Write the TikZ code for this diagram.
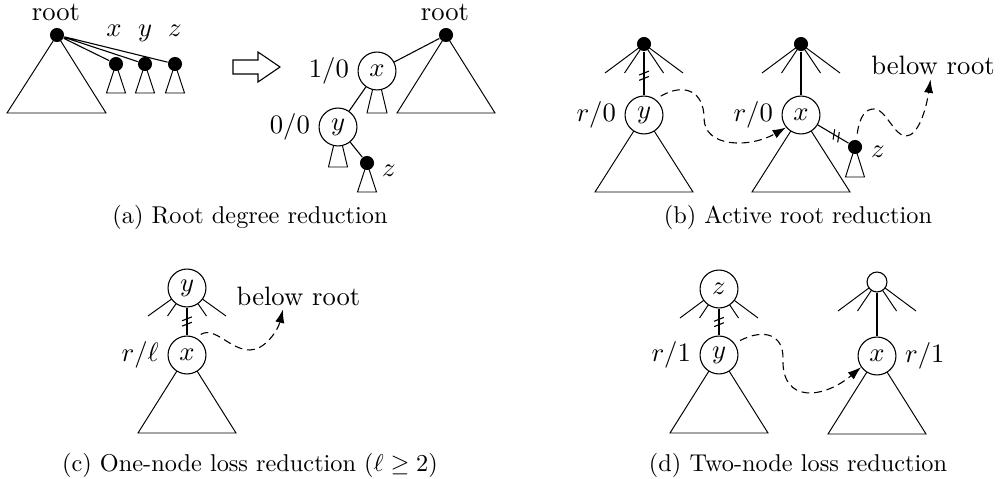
\documentclass[tikz,border=0pt]{standalone}
\usetikzlibrary{arrows.meta,decorations.markings,calc}
\pgfdeclarelayer{bg}
\pgfsetlayers{bg,main}
\begin{document}
\begin{tikzpicture}[x=0.4115pt,y=-0.4115pt, line width=0.45pt,
  lbl/.style={font=\fontsize{10.95}{13}\selectfont},
  captxt/.style={font=\fontsize{10}{12}\selectfont, anchor=base, inner sep=0pt},
  dot/.style={circle,fill=black,inner sep=0pt,minimum size=5.8pt},
  cnode/.style={circle,draw,fill=white,inner sep=0pt,minimum size=15.6pt,font=\fontsize{10.95}{13}\selectfont},
  snode/.style={circle,draw,fill=white,inner sep=0pt,minimum size=8.2pt},
  dasharrow/.style={dash pattern=on 3.2pt off 2pt, -{Latex[length=5.5pt,width=3.8pt]}, shorten <=2.5pt},
  cutmark/.style={postaction={decorate,decoration={markings,mark=at position #1 with {\draw[solid,line width=0.45pt] (-0.3pt,-2pt)--(-1.9pt,2pt) (1.9pt,-2pt)--(0.3pt,2pt);}}}},
  every label/.style={font=\fontsize{10.95}{13}\selectfont},
]
\useasboundingbox (0,0) rectangle (1000,479);

% ---------- (a) left ----------
\node[dot] (ar) at (57,35) {};
\node[lbl,anchor=base] (arl) at (56,21) {root};
\node[dot] (ax) at (116,64) {};
\node[dot] (ay) at (145,64) {};
\node[dot] (az) at (175,64) {};
\node[lbl,anchor=base] (axl) at (114,37) {$x$};
\node[lbl,anchor=base] (ayl) at (145,37) {$y$};
\node[lbl,anchor=base] (azl) at (175,37) {$z$};
\draw (ar) -- (ax) (ar) -- (ay) (ar) -- (az);

% hollow arrow
\draw[line join=miter] (233,60) -- (258,60) -- (258,52) -- (280,67) -- (258,82) -- (258,74) -- (233,74) -- cycle;

% ---------- (a) right ----------
\node[dot] (aR) at (446,35) {};
\node[lbl,anchor=base] (aRl) at (445,21) {root};
\node[cnode,label=left:{$1/0$}] (aX) at (377,71) {$x$};
\node[cnode,label=left:{$0/0$}] (aY) at (338,127) {$y$};
\node[dot] (aZ) at (367,163) {};
\node[lbl,anchor=base] (aZl) at (389,177) {$z$};
\draw (aX) -- (aR) (aX) -- (aY) (aY) -- (aZ);

% ---------- (b) ----------
\node[dot] (bR1) at (644,44) {};
\node[cnode,label=left:{$r/0$}] (bY) at (644,115) {$y$};
\node[dot] (bR2) at (801,44) {};
\node[cnode,label=left:{$r/0$}] (bX) at (801,115) {$x$};
\node[dot] (bZ) at (855,147) {};
\node[lbl,anchor=base] (bZl) at (878,158) {$z$};
\node[lbl,anchor=base,inner sep=1.5pt] (bB) at (933,75) {below root};
\draw[cutmark=0.55] (bR1) -- (bY);
\draw (bR2) -- (bX);
\draw[cutmark=0.6] (bX) -- (bZ);
\draw[dasharrow] (bY.54) .. controls (685,82) and (704,92) .. (704,118)
  .. controls (704,148) and (750,148) .. (bX.220);
\draw[dasharrow] (bZ.80) .. controls (860,115) and (866,109) .. (874,109)
  .. controls (886,109) and (894,136) .. (906,136)
  .. controls (918,136) and (926,110) .. ([xshift=-1pt]bB.south);

% ---------- (c) ----------
\node[cnode] (cY) at (187,288) {$y$};
\node[cnode,label=left:{$r/\ell$}] (cX) at (187,355) {$x$};
\node[lbl,anchor=base,inner sep=1.5pt] (cB) at (298.5,305) {below root};
\draw[cutmark=0.5] (cY) -- (cX);
\draw[dasharrow] (cX.64) .. controls (215,326) and (230,350) .. (250,350)
  .. controls (265,350) and (278,330) .. ([xshift=-6.4pt]cB.south);

% ---------- (d) ----------
\node[cnode] (dZ) at (719,289) {$z$};
\node[cnode,label=left:{$r/1$}] (dY) at (719,355) {$y$};
\node[snode] (dT) at (877,282) {};
\node[cnode,label=right:{$r/1$}] (dX) at (877,356) {$x$};
\draw[cutmark=0.5] (dZ) -- (dY);
\draw (dT) -- (dX);
\draw[dasharrow] (dY.37) .. controls (765,328) and (783,335) .. (783,358)
  .. controls (781,405) and (825,398) .. (dX.215);

% ---------- background: triangles and fans ----------
\begin{pgfonlayer}{bg}
  % (a) left
  \draw (ar.center) -- (7,113) -- (106,113) -- cycle;
  \foreach \n in {ax,ay,az}
    \draw (\n.center) -- ++(-9.5,29) -- ++(19,0) -- cycle;
  % (a) right
  \draw (aR.center) -- (397,113) -- (495,113) -- cycle;
  \draw (aX.center) -- ++(-10,42) -- ++(20,0) -- cycle;
  \draw (aY.center) -- ++(-9.5,40) -- ++(19,0) -- cycle;
  \draw (aZ.center) -- ++(-9.5,29) -- ++(19,0) -- cycle;
  % (b)
  \foreach \n in {bR1,bR2}
    \draw (\n.center) -- ++(-39,29) (\n.center) -- ++(-19.5,29)
          (\n.center) -- ++(19.5,29) (\n.center) -- ++(39,29);
  \draw (bY.center) -- ++(-49,77) -- ++(98,0) -- cycle;
  \draw (bX.center) -- ++(-49,77) -- ++(98,0) -- cycle;
  \draw (bZ.center) -- ++(-9.5,30) -- ++(19,0) -- cycle;
  % (c)
  \draw (cY.center) -- ++(-39,28) (cY.center) -- ++(-19.5,28)
        (cY.center) -- ++(19.5,28) (cY.center) -- ++(39,28);
  \draw (cX.center) -- ++(-49,78) -- ++(98,0) -- cycle;
  % (d)
  \foreach \n in {dZ,dT}
    \draw (\n.center) -- ++(-39,29) (\n.center) -- ++(-19.5,29)
          (\n.center) -- ++(19.5,29) (\n.center) -- ++(39,29);
  \draw (dY.center) -- ++(-49,78) -- ++(98,0) -- cycle;
  \draw (dX.center) -- ++(-49,78) -- ++(98,0) -- cycle;
\end{pgfonlayer}

% ---------- captions ----------
\node[captxt] (capa) at (250,224) {(a) Root degree reduction};
\node[captxt] (capb) at (798,224) {(b) Active root reduction};
\node[captxt] (capc) at (250,471) {(c) One-node loss reduction ($\ell \geq 2$)};
\node[captxt] (capd) at (798,471) {(d) Two-node loss reduction};
\end{tikzpicture}
\end{document}
